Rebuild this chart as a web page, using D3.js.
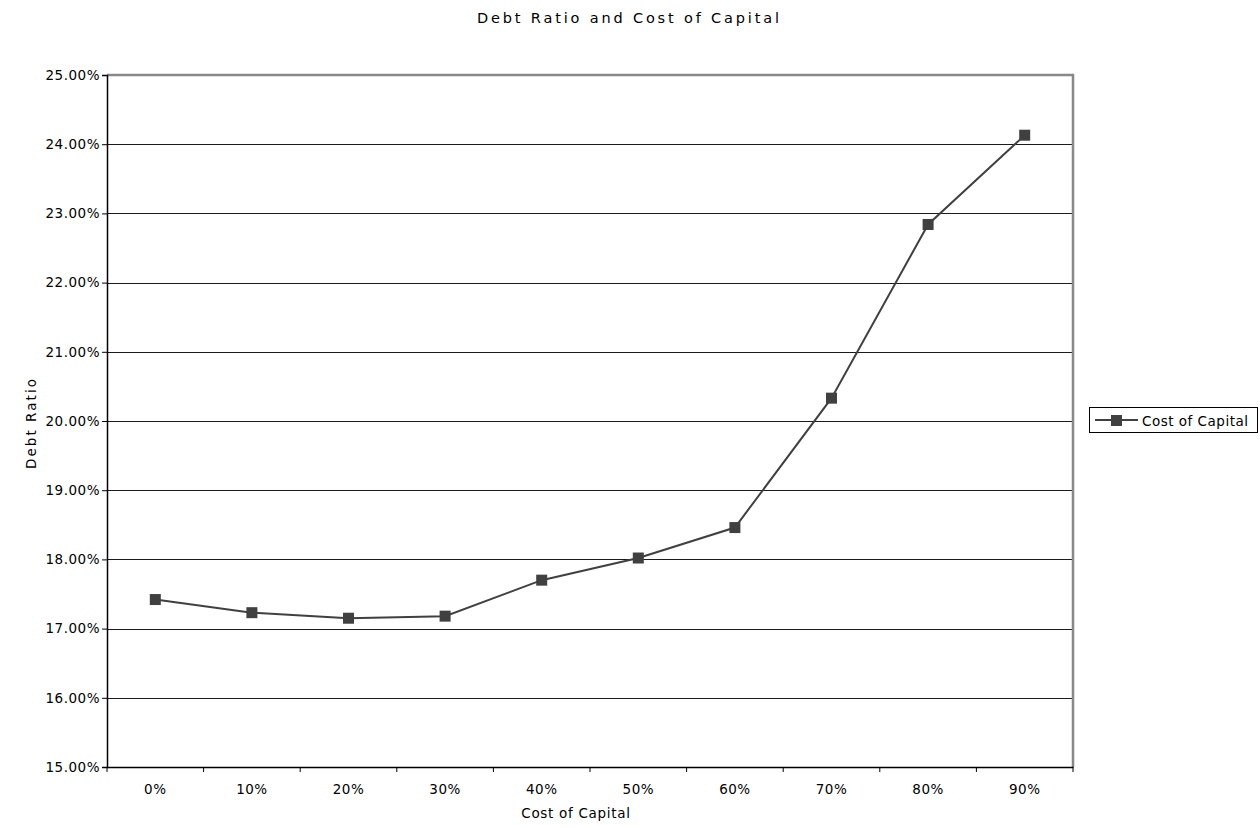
<!DOCTYPE html>
<html>
<head>
<meta charset="utf-8">
<script src="https://cdn.jsdelivr.net/npm/d3@7"></script>
<style>
  html, body { margin: 0; padding: 0; background: #fff; }
  svg { display: block; font-family: "DejaVu Sans", Verdana, sans-serif; }
</style>
</head>
<body>
<svg id="chart" width="1259" height="827"></svg>
<script>
// Cost of capital at each debt ratio
const categories = ["0%", "10%", "20%", "30%", "40%", "50%", "60%", "70%", "80%", "90%"];
const costOfCapital = [17.42, 17.23, 17.15, 17.18, 17.70, 18.02, 18.46, 20.33, 22.84, 24.13];
const yTicks = [15, 16, 17, 18, 19, 20, 21, 22, 23, 24, 25];
const seriesName = "Cost of Capital";

const svg = d3.select("#chart");
const margin = { left: 107, right: 1073, top: 75, bottom: 767 };
const ink = "#404040";
const font = "DejaVu Sans, Verdana, sans-serif";
const fs = 13.5;

const x = d3.scaleBand().domain(categories).range([margin.left, margin.right]);
const y = d3.scaleLinear().domain([15, 25]).range([margin.bottom, margin.top]);

// Title
svg.append("text")
  .attr("x", 628).attr("y", 23)
  .attr("text-anchor", "middle")
  .attr("font-size", 14.5)
  .attr("textLength", 302).attr("lengthAdjust", "spacing")
  .attr("fill", "#000")
  .text("Debt Ratio and Cost of Capital");

// Horizontal gridlines
svg.append("g")
  .selectAll("line")
  .data(yTicks.filter(d => d > 15 && d < 25))
  .join("line")
  .attr("x1", margin.left).attr("x2", margin.right)
  .attr("y1", d => Math.round(y(d)) + 0.5).attr("y2", d => Math.round(y(d)) + 0.5)
  .attr("stroke", "#1a1a1a").attr("stroke-width", 1.2);

// Plot frame: top and right edges in gray
svg.append("path")
  .attr("d", `M${margin.left},${margin.top} H${margin.right} V${margin.bottom}`)
  .attr("fill", "none").attr("stroke", "#888").attr("stroke-width", 2.5);

// Y axis
const yAxis = svg.append("g")
  .attr("transform", `translate(${margin.left},0)`)
  .call(d3.axisLeft(y).tickValues(yTicks).tickSize(5).tickPadding(2)
    .tickFormat(d => d.toFixed(2) + "%"));
yAxis.select(".domain").attr("stroke", "#000").attr("stroke-width", 1.5);
yAxis.selectAll(".tick line").attr("stroke", "#000");
yAxis.selectAll("text").attr("font-size", fs).attr("fill", "#000")
  .attr("letter-spacing", 0.5).attr("font-family", font);

// X axis: ticks at category boundaries
const xAxis = svg.append("g")
  .attr("transform", `translate(0,${margin.bottom})`)
  .call(d3.axisBottom(x).tickSize(0).tickPadding(17));
xAxis.select(".domain").attr("stroke", "#000").attr("stroke-width", 1.5);
xAxis.selectAll("text").attr("font-size", fs).attr("fill", "#000")
  .attr("letter-spacing", 0.5).attr("font-family", font);
const bounds = categories.map(c => x(c)).concat([x(categories[categories.length - 1]) + x.bandwidth()]);
xAxis.selectAll(".bound")
  .data(bounds)
  .join("line")
  .attr("class", "bound")
  .attr("x1", d => d).attr("x2", d => d)
  .attr("y1", 0).attr("y2", 5)
  .attr("stroke", "#000");

// Axis titles
svg.append("text")
  .attr("x", 576).attr("y", 818)
  .attr("text-anchor", "middle")
  .attr("font-size", fs).attr("letter-spacing", 0.7)
  .text("Cost of Capital");
svg.append("text")
  .attr("transform", `translate(36,424) rotate(-90)`)
  .attr("text-anchor", "middle")
  .attr("font-size", fs)
  .attr("textLength", 90).attr("lengthAdjust", "spacing")
  .text("Debt Ratio");

// Series line and markers
const cx = (d, i) => x(categories[i]) + x.bandwidth() / 2;
svg.append("path")
  .datum(costOfCapital)
  .attr("d", d3.line().x(cx).y(d => y(d)))
  .attr("fill", "none").attr("stroke", ink).attr("stroke-width", 2);
svg.append("g")
  .selectAll("rect")
  .data(costOfCapital)
  .join("rect")
  .attr("x", (d, i) => cx(d, i) - 5.5).attr("y", d => y(d) - 5.5)
  .attr("width", 11).attr("height", 11)
  .attr("fill", ink);

// Legend
const lg = svg.append("g").attr("transform", "translate(1089,407)");
lg.append("rect")
  .attr("x", 0.5).attr("y", 0.5).attr("width", 168).attr("height", 25)
  .attr("fill", "#fff").attr("stroke", "#000");
lg.append("line")
  .attr("x1", 6).attr("x2", 49).attr("y1", 13).attr("y2", 13)
  .attr("stroke", ink).attr("stroke-width", 2);
lg.append("rect")
  .attr("x", 22).attr("y", 8).attr("width", 11).attr("height", 11)
  .attr("fill", ink);
lg.append("text")
  .attr("x", 53).attr("y", 18.5)
  .attr("font-size", fs).attr("letter-spacing", 0.5)
  .text(seriesName);
</script>
</body>
</html>
